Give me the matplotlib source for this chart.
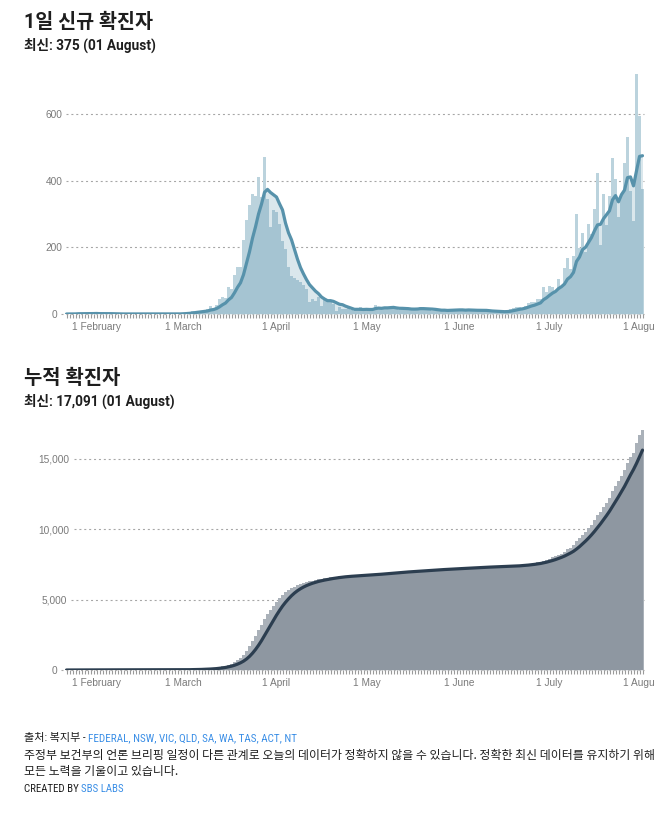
import numpy as np
import pandas as pd
import matplotlib
matplotlib.use('Agg')
import matplotlib.pyplot as plt
from matplotlib.transforms import blended_transform_factory
from matplotlib.lines import Line2D
from matplotlib.patches import Rectangle

# ---------------- data ----------------
start_date = '2020-01-22'
daily_new = [
    # Jan 22-31
    0, 0, 0, 1, 3, 1, 0, 1, 1, 2,
    # Feb 1-29
    3, 0, 1, 0, 1, 0, 0, 0, 0, 0,
    0, 0, 1, 0, 0, 0, 0, 0, 0, 0,
    2, 1, 0, 0, 0, 0, 0, 1, 1,
    # Mar 1-31
    3, 4, 5, 8, 6, 10, 8, 11, 15, 25,
    18, 28, 45, 52, 47, 82, 75, 117, 142, 140,
    223, 283, 327, 360, 355, 410, 350, 470, 345, 262, 312,
    # Apr 1-30
    307, 270, 220, 195, 140, 115, 107, 103, 95, 87,
    75, 35, 45, 40, 50, 25, 45, 40, 35, 30,
    10, 20, 15, 15, 18, 12, 8, 10, 20, 12,
    # May 1-31
    18, 15, 12, 27, 20, 15, 22, 18, 20, 17,
    16, 12, 14, 18, 15, 12, 16, 18, 20, 14,
    15, 12, 8, 10, 9, 12, 14, 10, 15, 12, 13,
    # Jun 1-30
    10, 12, 9, 14, 12, 11, 10, 9, 12, 8,
    7, 6, 8, 5, 6, 9, 10, 14, 18, 22,
    20, 15, 25, 33, 35, 35, 45, 45, 82, 65,
    # Jul 1-31
    85, 82, 70, 105, 85, 138, 168, 135, 173, 300,
    197, 242, 185, 270, 240, 315, 423, 208, 360, 268,
    355, 468, 405, 292, 360, 453, 531, 370, 280, 720, 595,
    # Aug 1
    375,
]

month_tick_dates = ['2020-02-01', '2020-03-01', '2020-04-01', '2020-05-01',
                    '2020-06-01', '2020-07-01', '2020-08-01']
month_tick_labels = ['1 February', '1 March', '1 April', '1 May',
                     '1 June', '1 July', '1 August']

daily_yticks = [0, 200, 400, 600]
daily_ytick_labels = ['0', '200', '400', '600']
cum_yticks = [0, 5000, 10000, 15000]
cum_ytick_labels = ['0', '5,000', '10,000', '15,000']

title_daily = '1일 신규 확진자'
title_cum = '누적 확진자'
latest_date_label = '01 August'

source_prefix = '출처: 복지부 - '
source_links = 'FEDERAL, NSW, VIC, QLD, SA, WA, TAS, ACT, NT'
note_line1 = '주정부 보건부의 언론 브리핑 일정이 다른 관계로 오늘의 데이터가 정확하지 않을 수 있습니다. 정확한 최신 데이터를 유지하기 위해'
note_line2 = '모든 노력을 기울이고 있습니다.'
credit_prefix = 'CREATED BY '
credit_link = 'SBS LABS'

# ---------------- derived ----------------
dates = pd.date_range(start_date, periods=len(daily_new), freq='D')
daily = pd.Series(daily_new, index=dates, dtype=float)
daily_avg = daily.rolling(7, min_periods=1).mean()
cumulative = daily.cumsum()
cum_avg = cumulative.rolling(7, min_periods=1).mean()

# ---------------- style ----------------
W, H = 672, 820
BLUE = '#5792ab'
NAVY = '#2c3e50'
LINK = '#3a8ee6'
TXT = '#1e1e1e'
AXTXT = '#7a7a7a'
GRID = '#a6a6a6'

plt.rcParams['font.family'] = ['Liberation Sans', 'Noto Sans CJK KR']
HEAD_FONT = ['Roboto', 'Noto Sans CJK KR']
COND_FONT = ['Roboto Condensed', 'Liberation Sans Narrow', 'Noto Sans CJK KR']

fig = plt.figure(figsize=(W / 100, H / 100), dpi=100, facecolor='white')
renderer = fig.canvas.get_renderer()


def ax_rect(left, top, right, bottom):
    return [left / W, 1 - bottom / H, (right - left) / W, (bottom - top) / H]


def ftext(x, y, s, **kw):
    return fig.text(x / W, 1 - y / H, s, **kw)


def draw_panel(ax, bars, line, color, yticks, ylabels, ymax):
    # opaque white underlay so the grid does not show through the translucent marks
    ax.bar(dates, bars.values, width=1.0, color='white', linewidth=0, zorder=1.5,
           antialiased=False)
    ax.fill_between(dates, 0, line.values, color='white', linewidth=0, zorder=1.5)
    ax.bar(dates, bars.values, width=1.0, color=color, alpha=0.4,
           linewidth=0, zorder=2, antialiased=False)
    ax.fill_between(dates, 0, line.values, color=color, alpha=0.22,
                    linewidth=0, zorder=3)
    ax.plot(dates, line.values, color=color, lw=2.3, zorder=4,
            solid_capstyle='round', solid_joinstyle='round')
    ax.set_xlim(dates[0] - pd.Timedelta(hours=12), dates[-1] + pd.Timedelta(hours=12))
    ax.set_ylim(0, ymax)
    for s in ax.spines.values():
        s.set_visible(False)
    ax.set_yticks([])
    ax.set_facecolor('none')
    ax.set_xticks(pd.to_datetime(month_tick_dates), labels=month_tick_labels)
    ax.set_xticks(dates, minor=True)
    ax.tick_params(axis='x', which='both', length=3.2, width=0.8, color='#9a9a9a',
                   labelsize=7.3, labelcolor=AXTXT, pad=1.8)
    tr = blended_transform_factory(fig.transFigure, ax.transData)
    x_end = ax.get_position().x1
    for v, lab in zip(yticks, ylabels):
        t = ax.text(54 / W, v, lab, transform=tr, ha='center', va='center',
                    fontsize=7.3, color=AXTXT, clip_on=False)
        bb = t.get_window_extent(renderer)
        x0 = (bb.x1 + 4) / W
        ax.add_line(Line2D([x0, x_end], [v, v], transform=tr, color=GRID, lw=0.8,
                           linestyle=(0, (1.8, 2.6)), zorder=1, clip_on=False))


# ---------------- top panel ----------------
ftext(24, 28.5, title_daily, fontsize=14.1, fontweight='bold', family=HEAD_FONT,
      color=TXT, va='baseline')
ftext(24, 50, f'최신: {int(daily.iloc[-1]):,} ({latest_date_label})', fontsize=9.8,
      fontweight='bold', family=HEAD_FONT, color=TXT, va='baseline')
ax1 = fig.add_axes(ax_rect(65, 315 - 730 / 3, 644, 315))
draw_panel(ax1, daily, daily_avg, BLUE, daily_yticks, daily_ytick_labels, 730)

# ---------------- bottom panel ----------------
ftext(24, 384.5, title_cum, fontsize=14.3, fontweight='bold', family=HEAD_FONT,
      color=TXT, va='baseline')
ftext(24, 405.5, f'최신: {int(cumulative.iloc[-1]):,} ({latest_date_label})', fontsize=9.8,
      fontweight='bold', family=HEAD_FONT, color=TXT, va='baseline')
ax2 = fig.add_axes(ax_rect(65, 671 - 17200 * 211 / 15000, 644, 671))
draw_panel(ax2, cumulative, cum_avg, NAVY, cum_yticks, cum_ytick_labels, 17200)


# ---------------- footer ----------------
def run_texts(x, y, pieces):
    for s, color, fam, size in pieces:
        t = ftext(x, y, s, fontsize=size, family=fam, color=color, va='baseline')
        bb = t.get_window_extent(renderer)
        x += bb.width


run_texts(24, 741, [(source_prefix, TXT, COND_FONT, 8.0),
                    (source_links, LINK, COND_FONT, 8.0)])
ftext(24, 759, note_line1, fontsize=8.57, family=['Noto Sans CJK KR'], color=TXT, va='baseline')
ftext(24, 775, note_line2, fontsize=8.57, family=['Noto Sans CJK KR'], color=TXT, va='baseline')
run_texts(24, 792, [(credit_prefix, TXT, COND_FONT, 7.8),
                    (credit_link, LINK, COND_FONT, 7.8)])

# right-edge viewport clip as in the reference
fig.add_artist(Rectangle((655 / W, 0), 1, 1, transform=fig.transFigure,
                         facecolor='white', edgecolor='none', zorder=20))

fig.savefig('out.png', dpi=100, facecolor='white')
